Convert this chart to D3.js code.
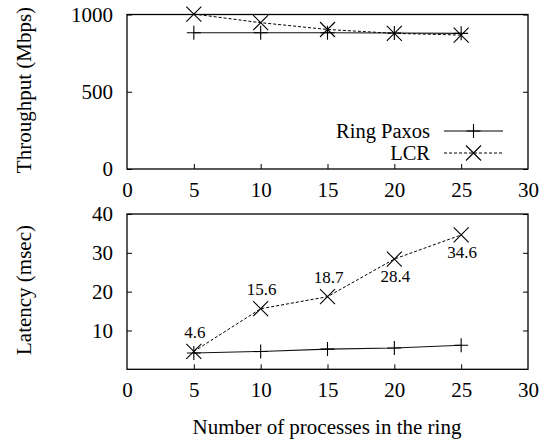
<!DOCTYPE html>
<html>
<head>
<meta charset="utf-8">
<script src="https://cdn.jsdelivr.net/npm/d3@7"></script>
<style>
  html, body { margin: 0; padding: 0; background: #fff; }
  svg { display: block; }
  text { font-family: "Liberation Serif", "Times New Roman", serif; fill: #000; }
</style>
</head>
<body>
<svg id="chart" width="550" height="440"></svg>
<script>
// Ring size (number of processes)
const processes = [5, 10, 15, 20, 25];
// Throughput in Mbps
const throughputRingPaxos = [882, 882, 882, 880, 878];
const throughputLCR = [1003, 947, 903, 878, 867];
// Latency in msec
const latencyRingPaxos = [4.2, 4.6, 5.2, 5.5, 6.2];
const latencyLCR = [4.6, 15.6, 18.7, 28.4, 34.6];
// Tick values
const xTicks = [0, 5, 10, 15, 20, 25, 30];
const throughputTicks = [0, 500, 1000];
const latencyTicks = [10, 20, 30, 40];
// Series names
const seriesNames = ["Ring Paxos", "LCR"];

const svg = d3.select("#chart");
const left = 127, right = 528;
const fontSize = 21;

const x = d3.scaleLinear().domain([0, 30]).range([left, right]);
const yTop = d3.scaleLinear().domain([0, 1000]).range([169, 14.5]);
const yBot = d3.scaleLinear().domain([0, 40]).range([369.3, 214]);

function plusPath(cx, cy, s) {
  return `M${cx - s},${cy}H${cx + s}M${cx},${cy - s}V${cy + s}`;
}
function crossPath(cx, cy, s) {
  return `M${cx - s},${cy - s}L${cx + s},${cy + s}M${cx - s},${cy + s}L${cx + s},${cy - s}`;
}

function styleAxis(a) {
  a.attr("font-family", null).attr("font-size", null);
  a.select(".domain").remove();
  a.selectAll(".tick line").attr("stroke", "#000");
  a.selectAll(".tick text").attr("font-size", fontSize);
}

function drawPanel(y, yTickVals, title, titleY, rp, lcr, labels) {
  const g = svg.append("g");
  const [y0, y1] = y.range();

  // frame
  g.append("rect")
    .attr("x", left).attr("y", y1)
    .attr("width", right - left).attr("height", y0 - y1)
    .attr("fill", "none").attr("stroke", "#000").attr("stroke-width", 1.3);

  // x ticks (inward from bottom) and labels
  const ax = g.append("g").attr("transform", `translate(0,${y0})`)
    .call(d3.axisBottom(x).tickValues(xTicks).tickSize(-5).tickPadding(13)
      .tickFormat(d3.format("d")));
  styleAxis(ax);
  ax.selectAll(".tick line").filter(d => d === 0 || d === 30).remove();

  // y ticks (inward, mirrored on right)
  const ay = g.append("g").attr("transform", `translate(${left},0)`)
    .call(d3.axisLeft(y).tickValues(yTickVals).tickSize(-5).tickPadding(14)
      .tickFormat(d3.format("d")));
  styleAxis(ay);
  const ayr = g.append("g").attr("transform", `translate(${right},0)`)
    .call(d3.axisRight(y).tickValues(yTickVals).tickSize(-5).tickFormat(""));
  styleAxis(ayr);

  // y title
  g.append("text")
    .attr("transform", `translate(24,${titleY}) rotate(-90)`)
    .attr("text-anchor", "middle").attr("dominant-baseline", "central")
    .attr("font-size", fontSize).text(title);

  const line = d3.line().x((d, i) => x(processes[i])).y(d => y(d));

  // Ring Paxos: solid line with plus markers
  g.append("path").datum(rp).attr("d", line)
    .attr("fill", "none").attr("stroke", "#111").attr("stroke-width", 1.1);
  g.append("path")
    .attr("d", rp.map((v, i) => plusPath(x(processes[i]), y(v), 7)).join(""))
    .attr("stroke", "#000").attr("stroke-width", 1.1).attr("fill", "none");

  // LCR: dashed line with cross markers
  g.append("path").datum(lcr).attr("d", line)
    .attr("fill", "none").attr("stroke", "#000").attr("stroke-width", 1)
    .attr("stroke-dasharray", "3,2");
  g.append("path")
    .attr("d", lcr.map((v, i) => crossPath(x(processes[i]), y(v), 7.5)).join(""))
    .attr("stroke", "#000").attr("stroke-width", 1.1).attr("fill", "none");

  if (labels) {
    g.selectAll(".val").data(lcr).enter().append("text")
      .attr("x", (d, i) => x(processes[i]) + 1)
      .attr("y", (d, i) => y(d) + (i >= 3 ? 17.5 : -19))
      .attr("text-anchor", "middle").attr("dominant-baseline", "central")
      .attr("font-size", 17)
      .text(d => d3.format(".1f")(d));
  }
  return g;
}

drawPanel(yTop, throughputTicks, "Throughput (Mbps)", 90,
  throughputRingPaxos, throughputLCR, false);
drawPanel(yBot, latencyTicks, "Latency (msec)", 290,
  latencyRingPaxos, latencyLCR, true);

// legend in the throughput panel
const legend = svg.append("g");
const legendRows = [
  { name: seriesNames[0], y: 131, dash: null, marker: plusPath },
  { name: seriesNames[1], y: 153, dash: "3,2", marker: crossPath }
];
legendRows.forEach(r => {
  legend.append("text").attr("x", 430).attr("y", r.y)
    .attr("text-anchor", "end").attr("dominant-baseline", "central")
    .attr("font-size", 20.5).text(r.name);
  legend.append("line").attr("x1", 444).attr("x2", 503)
    .attr("y1", r.y).attr("y2", r.y)
    .attr("stroke", "#000").attr("stroke-width", 1)
    .attr("stroke-dasharray", r.dash);
  legend.append("path").attr("d", r.marker(473.5, r.y, r.dash ? 7.5 : 7))
    .attr("stroke", "#000").attr("stroke-width", 1.1).attr("fill", "none");
});

// x title
svg.append("text").attr("x", 327).attr("y", 427)
  .attr("text-anchor", "middle").attr("dominant-baseline", "central")
  .attr("font-size", fontSize).text("Number of processes in the ring");
</script>
</body>
</html>
